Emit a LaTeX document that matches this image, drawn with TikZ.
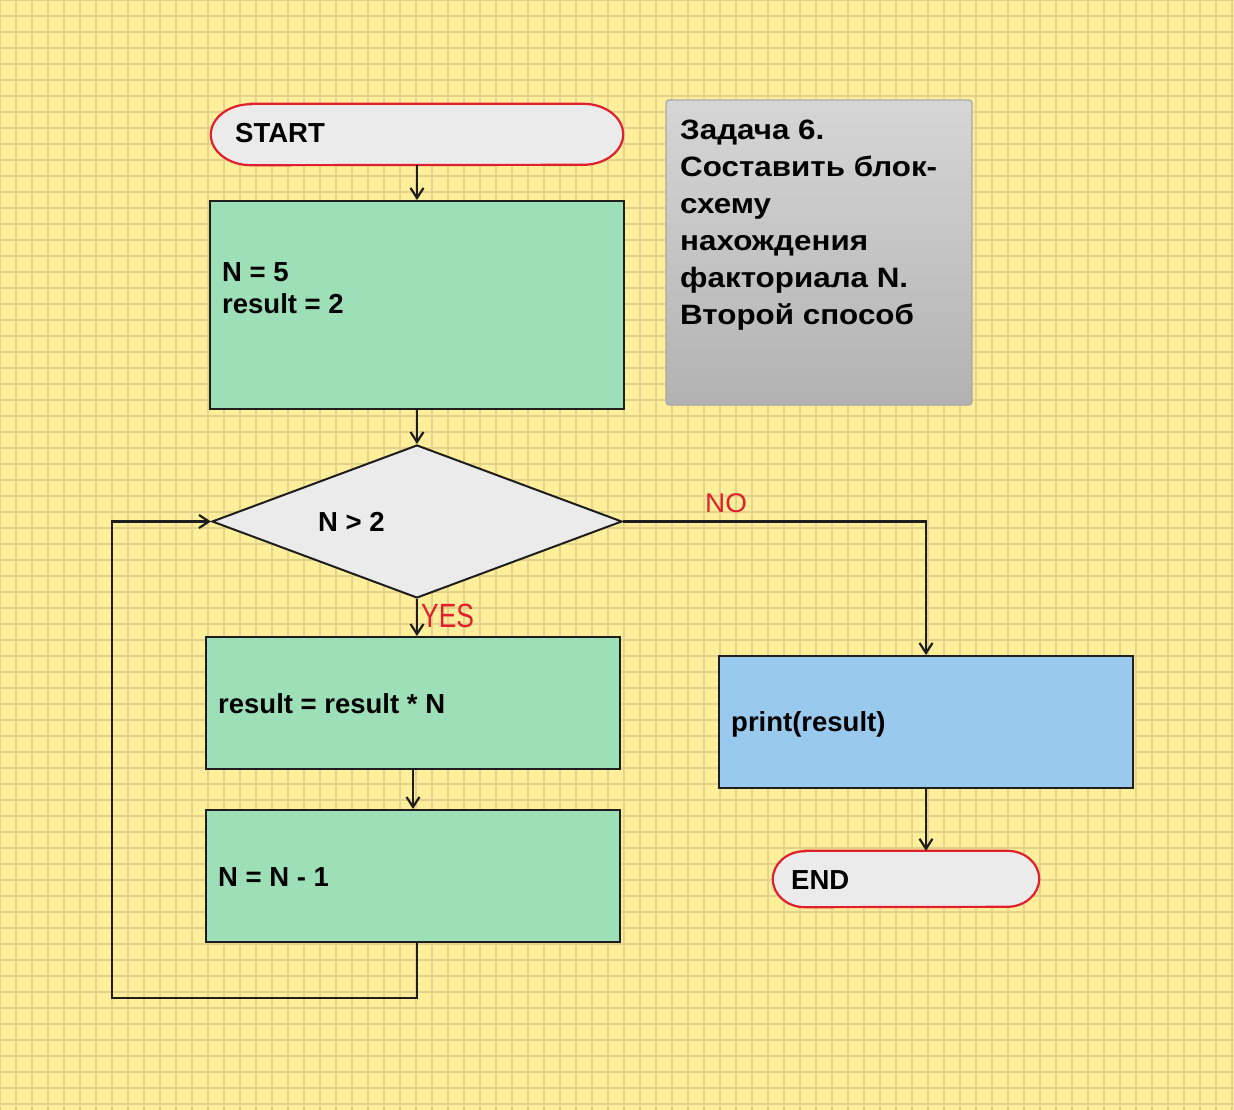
\documentclass[tikz,border=0pt]{standalone}
\usepackage{fontspec}
\setmainfont{Liberation Sans}
\newfontfamily\titlefont[FakeStretch=1.12]{Liberation Sans}
\usetikzlibrary{arrows.meta,shapes.geometric}
\definecolor{bgyellow}{HTML}{FFEE9A}
\definecolor{gridcol}{HTML}{E2D28C}
\definecolor{boxgreen}{HTML}{9DE0B8}
\definecolor{boxblue}{HTML}{9AC9EE}
\definecolor{termgray}{HTML}{EBEBEB}
\definecolor{termred}{HTML}{E1202D}
\definecolor{linecol}{HTML}{1E1E1E}
\definecolor{titletop}{HTML}{D6D6D6}
\definecolor{titlebot}{HTML}{B2B2B2}
\definecolor{titleedge}{HTML}{A8A8A8}
\tikzset{
  gridline/.style={draw=gridcol,line width=1.6pt},
  procbox/.style={draw=linecol,line width=2pt,rectangle,inner sep=0pt,minimum width=414pt},
  termbox/.style={draw=none,rectangle,inner sep=0pt},
  termline/.style={draw=termred,fill=termgray,line width=2.2pt},
  decision/.style={diamond,draw=linecol,fill=termgray,line width=2pt,inner sep=0pt,minimum width=410pt,minimum height=153pt},
  txt/.style={inner sep=0pt,text=black,font=\fontsize{27.5}{32}\selectfont\bfseries},
  redlbl/.style={inner sep=0pt,text=termred,font=\fontsize{30}{32}\selectfont},
  arr/.style={draw=linecol,line width=2.2pt,-{Straight Barb[length=10pt,width=13pt]}}
}
\begin{document}
\begin{tikzpicture}[x=1pt,y=-1pt]
\useasboundingbox (0,0) rectangle (1234,1110);
\fill[bgyellow] (0,0) rectangle (1234,1110);
\foreach \i in {0,...,77} \draw[gridline] (\i*16,0) -- (\i*16,1110);
\foreach \j in {0,...,69} \draw[gridline] (0,\j*16) -- (1234,\j*16);

% title box
\node[draw=titleedge,line width=1.2pt,rounded corners=3pt,top color=titletop,bottom color=titlebot,minimum width=306pt,minimum height=305pt,inner sep=0pt] (title) at (819,252.5) {};
\node[inner sep=0pt,anchor=north west,align=left,font=\titlefont\fontsize{28}{37}\selectfont\bfseries] (titletxt) at (680,120) {Задача 6.\\Составить блок-\\схему\\нахождения\\факториала N.\\Второй способ};

% start terminal
\node[termbox,minimum width=412pt,minimum height=61pt] (st) at (417,134.5) {};
\draw[termline] ([xshift=40pt]st.north west) -- ([xshift=-40pt]st.north east)
  arc[start angle=90,end angle=-90,x radius=40pt,y radius=30.5pt]
  -- ([xshift=40pt]st.south west)
  arc[start angle=270,end angle=90,x radius=40pt,y radius=30.5pt] -- cycle;
\node[txt,anchor=base west] (sttxt) at (235,143) {START};

% boxes
\node[procbox,fill=boxgreen,minimum height=208pt] (b1) at (417,305) {};
\node[txt,anchor=north west,align=left] (b1txt) at (222,262.5) {N = 5\\result = 2};

\node[decision] (dia) at (417,521.5) {};
\node[txt,anchor=base west] (diatxt) at (318,531) {N > 2};

\node[procbox,fill=boxgreen,minimum height=132pt] (b2) at (413,703) {};
\node[txt,anchor=base west] (b2txt) at (218,713) {result = result * N};

\node[procbox,fill=boxgreen,minimum height=132pt] (b3) at (413,876) {};
\node[txt,anchor=base west] (b3txt) at (218,886) {N = N - 1};

\node[procbox,fill=boxblue,minimum height=132pt] (pr) at (926,722) {};
\node[txt,anchor=base west] (prtxt) at (731,731) {print(result)};

% end terminal
\node[termbox,minimum width=266pt,minimum height=56pt] (en) at (906,879) {};
\draw[termline] ([xshift=32pt]en.north west) -- ([xshift=-32pt]en.north east)
  arc[start angle=90,end angle=-90,x radius=32pt,y radius=28pt]
  -- ([xshift=32pt]en.south west)
  arc[start angle=270,end angle=90,x radius=32pt,y radius=28pt] -- cycle;
\node[txt,anchor=base west] (entxt) at (791,889) {END};

% connectors
\draw[arr] (st.south) -- (b1.north);
\draw[arr] (b1.south) -- (dia.north);
\draw[arr] (dia.south) -- (dia.south |- b2.north);
\draw[arr] (b2.south) -- (b3.north);
\draw[arr] (b3.south -| dia.south) -- ++(0,55) -| ([xshift=-99pt]dia.west) -- (dia.west);
\draw[arr] (dia.east) -| (pr.north);
\draw[arr] (pr.south) -- (pr.south |- en.north);

% labels
\node[redlbl,anchor=base west] (yes) at (421,627) {\scalebox{0.88}[1.12]{YES}};
\node[redlbl,anchor=base west] (no) at (705,512) {\scalebox{0.93}[0.9]{NO}};
\end{tikzpicture}
\end{document}
